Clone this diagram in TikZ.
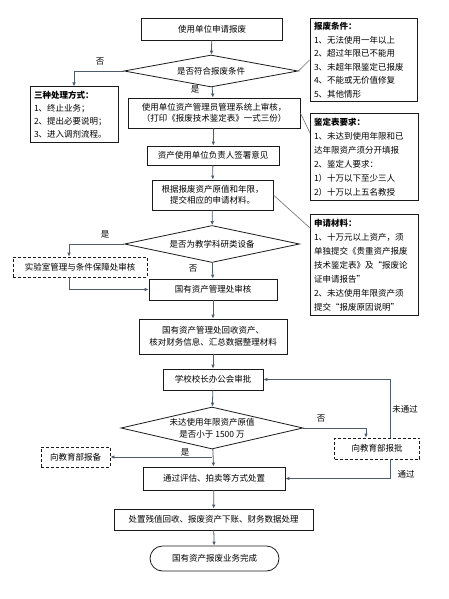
\documentclass[tikz,border=0pt]{standalone}
\usepackage{fontspec}
\newfontfamily\cjk{Noto Sans CJK SC}
\usetikzlibrary{arrows.meta,positioning,shapes.geometric}
\definecolor{FlowInk}{HTML}{1A1A1A}
\definecolor{FlowLine}{HTML}{4F5C6D}
\definecolor{NoteLine}{HTML}{6A6A6A}

\begin{document}
\begin{tikzpicture}[x=1pt, y=-1pt,
  font=\cjk\fontsize{8.5}{13.5}\selectfont,
  flowbox/.style={draw=FlowInk, line width=0.8pt, align=center, inner xsep=4pt, inner ysep=2pt},
  notebox/.style={draw=FlowInk, line width=1pt, align=left, inner sep=4pt},
  dashbox/.style={draw=FlowInk, line width=0.8pt, dash pattern=on 3pt off 2pt, align=center},
  decision/.style={draw=FlowInk, line width=0.8pt, shape=diamond, inner sep=0pt, align=center},
  flow/.style={FlowLine, line width=0.8pt, -{Latex[length=4pt,width=3.6pt]}},
  link/.style={NoteLine, line width=0.6pt},
  lbl/.style={font=\cjk\fontsize{8.5}{10}\selectfont}]
  \useasboundingbox (0,0) rectangle (448,599);
  % main column
  \node[flowbox, minimum width=141pt, minimum height=22pt] (apply) at (212,29) {使用单位申请报废};
  \node[decision, aspect=5.4, minimum width=174pt, minimum height=32pt] (cond1) at (211,71) {是否符合报废条件};
  \node[flowbox, minimum width=172pt, minimum height=30pt, font=\cjk\fontsize{8.5}{11}\selectfont] (audit) at (214,113)
    {使用单位资产管理员管理系统上审核，\\（打印《报废技术鉴定表》一式三份）};
  \node[flowbox, minimum width=132pt, minimum height=19pt] (sign) at (213,155.5) {资产使用单位负责人签署意见};
  \node[flowbox, minimum width=121pt, minimum height=30pt, font=\cjk\fontsize{8.5}{11}\selectfont] (submit) at (212.5,195)
    {根据报废资产原值和年限，\\提交相应的申请材料。};
  \node[decision, aspect=4.7, minimum width=175pt, minimum height=37pt] (cond2) at (212,244) {是否为教学科研类设备};
  \node[flowbox, minimum width=128pt, minimum height=21pt] (state) at (213,289.5) {国有资产管理处审核};
  \node[flowbox, minimum width=148pt, minimum height=35pt, font=\cjk\fontsize{8.5}{12}\selectfont] (collect) at (213,336.5)
    {国有资产管理处回收资产、\\核对财务信息、汇总数据整理材料};
  \node[flowbox, minimum width=100pt, minimum height=21pt] (office) at (213,379.5) {学校校长办公会审批};
  \node[decision, aspect=4.3, minimum width=182pt, minimum height=42pt, font=\cjk\fontsize{8.5}{12}\selectfont] (cond3) at (212,428)
    {未达使用年限资产原值\\是否小于 1500 万};
  \node[flowbox, minimum width=142pt, minimum height=23pt] (dispose) at (214,478.5) {通过评估、拍卖等方式处置};
  \node[flowbox, minimum width=199pt, minimum height=21pt] (write) at (213.5,519.5) {处置残值回收、报废资产下账、财务数据处理};
  \node[flowbox, rounded corners=12.5pt, minimum width=129pt, minimum height=25pt] (done) at (214.5,558.5) {国有资产报废业务完成};
  % side boxes
  \node[notebox, text width=80pt, font=\cjk\fontsize{8.5}{13}\selectfont] (ways) at (74,114.5)
    {\textbf{三种处理方式：}\\1、终止业务；\\2、提出必要说明；\\3、进入调剂流程。};
  \node[notebox, text width=99pt] (cond) at (363.5,60)
    {\textbf{报废条件：}\\1、无法使用一年以上\\2、超过年限已不能用\\3、未超年限鉴定已报废\\4、不能或无价值修复\\5、其他情形};
  \node[notebox, text width=100pt, font=\cjk\fontsize{8.5}{14}\selectfont] (reqs) at (364,157)
    {\textbf{鉴定表要求：}\\1、未达到使用年限和已\\达年限资产须分开填报\\2、鉴定人要求：\\1）十万以下至少三人\\2）十万以上五名教授};
  \node[notebox, text width=100pt, font=\cjk\fontsize{8.5}{14}\selectfont] (mats) at (364,265)
    {\textbf{申请材料：}\\1、十万元以上资产，须\\单独提交《贵重资产报废\\技术鉴定表》及“报废论\\证申请报告”\\2、未达使用年限资产须\\提交“报废原因说明”};
  \node[dashbox, minimum width=134pt, minimum height=20pt] (lab) at (80,267) {实验室管理与条件保障处审核};
  \node[dashbox, minimum width=85pt, minimum height=21pt] (report) at (377,448.5) {向教育部报批};
  \node[dashbox, minimum width=69pt, minimum height=20pt] (file) at (75.5,457) {向教育部报备};
  \coordinate (reqsin) at (310,133);
  \coordinate (matsin) at (310,228);
  % connectors
  \draw[flow] (apply) -- (cond1);
  \draw[flow] (cond1.west) -| (ways.north);
  \node[lbl] (no1) at (100,62) {否};
  \draw[link] (cond1.east) -- (cond.west);
  \draw[flow] (cond1) -- (audit);
  \node[lbl] (yes1) at (195,89) {是};
  \draw[link] (audit.east) -- (reqsin);
  \draw[flow] (audit) -- (sign);
  \draw[flow] (sign) -- (submit);
  \draw[link] (submit.east) -- (matsin);
  \draw[flow] (submit) -- (cond2);
  \draw[flow] (cond2.west) -| ([xshift=-11pt]lab.north);
  \node[lbl] (yes2) at (105,234) {是};
  \draw[flow] (cond2) -- (state);
  \node[lbl] (no2) at (193,269) {否};
  \draw[flow] ([xshift=-11pt]lab.south) |- (state.west);
  \draw[flow] (state) -- (collect);
  \draw[flow] (collect) -- (office);
  \draw[flow] (office) -- (cond3);
  \draw[flow] (cond3.east) -| ([xshift=-11pt]report.north);
  \node[lbl] (no3) at (321,419) {否};
  \draw[flow] ([xshift=13pt]report.north) |- (office.east);
  \node[lbl] (fail) at (405,409) {未通过};
  \draw[flow] ([xshift=13pt]report.south) |- (dispose.east);
  \node[lbl] (pass) at (406,474) {通过};
  \draw[flow] (cond3) -- (dispose);
  \node[lbl] (yes3) at (185,452) {是};
  \draw[flow] (cond3.south |- file.east) -- (file.east);
  \draw[flow] (dispose) -- (write);
  \draw[flow] (write) -- (done);
\end{tikzpicture}
\end{document}
